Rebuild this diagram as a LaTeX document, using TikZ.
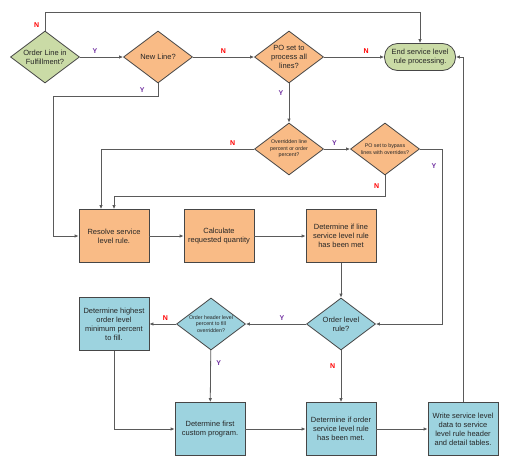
\documentclass[tikz,border=0pt]{standalone}
\usepackage{fontspec}
\setmainfont{Liberation Sans}
\usetikzlibrary{arrows.meta,shapes.geometric}

\definecolor{leafgreen}{RGB}{202,219,166}
\definecolor{peach}{RGB}{249,187,134}
\definecolor{skyblue}{RGB}{157,211,223}
\definecolor{edgegray}{RGB}{70,70,70}
\definecolor{linegray}{RGB}{90,90,90}
\definecolor{ylabel}{RGB}{112,48,160}

\begin{document}
\begin{tikzpicture}[
  x=1pt,
  y=-1pt,
  font=\fontsize{7.5}{9}\selectfont,
  figure/.style={draw=edgegray, line width=0.8pt, align=center, inner sep=0pt,
    text=black!85},
  stepbox/.style={figure, rectangle, minimum width=70pt, minimum height=53pt},
  question/.style={figure, diamond, aspect=1.33, minimum width=69pt,
    minimum height=52pt},
  smallq/.style={question, font=\fontsize{5.3}{6.4}\selectfont},
  orangebox/.style={stepbox, fill=peach},
  bluebox/.style={stepbox, fill=skyblue},
  terminal/.style={figure, rectangle, rounded corners=13pt, fill=leafgreen,
    minimum width=71pt, minimum height=27pt},
  arrow/.style={-{Latex[length=4pt,width=3.5pt]}, linegray, line width=0.8pt},
  yes/.style={font=\fontsize{7}{8}\selectfont\bfseries, text=ylabel},
  no/.style={font=\fontsize{7}{8}\selectfont\bfseries, text=red}
]
  \useasboundingbox (0,0) rectangle (508,466);

  % top row
  \node[question, fill=leafgreen] (fulfil) at (45,57) {Order Line in\\Fulfillment?};
  \node[question, fill=peach] (newline) at (158,57) {New Line?};
  \node[question, fill=peach] (poall) at (289,57) {PO set to\\process all\\lines?};
  \node[terminal] (endproc) at (420,57) {End service level\\rule processing.};

  % override checks
  \node[smallq, fill=peach] (override) at (289,149) {Overridden line\\percent or order\\percent?};
  \node[smallq, fill=peach] (bypass) at (385,149) {PO set to bypass\\lines with overrides?};

  % line level
  \node[orangebox] (resolve) at (114,236) {Resolve service\\level rule.};
  \node[orangebox] (calcqty) at (219,236) {Calculate\\requested quantity};
  \node[orangebox] (linemet) at (341,236) {Determine if line\\service level rule\\has been met};

  % order level
  \node[question, fill=skyblue] (ordlevel) at (341,324) {Order level\\rule?};
  \node[smallq, fill=skyblue] (hdrpct) at (211,324) {Order header level\\percent to fill\\overridden?};
  \node[bluebox] (highest) at (114,324) {Determine highest\\order level\\minimum percent\\to fill.};
  \node[bluebox] (custom) at (210,429) {Determine first\\custom program.};
  \node[bluebox] (ordmet) at (341,429) {Determine if order\\service level rule\\has been met.};
  \node[bluebox] (writedata) at (463,429) {Write service level\\data to service\\level rule header\\and detail tables.};

  \draw[arrow] (fulfil.north) -- node[no, pos=0.3, left=2pt] {N} ++(0,-18) -| (endproc.north);
  \draw[arrow] (fulfil) -- node[yes, pos=0.35, above] {Y} (newline);
  \draw[arrow] (newline) -- node[no, pos=0.5, above] {N} (poall);
  \draw[arrow] (poall) -- node[no, pos=0.7, above] {N} (endproc);
  \draw[arrow] (newline.south) |- node[yes, pos=0.575, above] {Y} (53,96) |- (resolve.west);
  \draw[arrow] (poall) -- node[yes, pos=0.25, left=2pt] {Y} (override);
  \draw[arrow] (override.west) -| node[no, pos=0.07, above] {N} ([xshift=-13pt]resolve.north);
  \draw[arrow] (override) -- node[yes, pos=0.4, above] {Y} (bypass);
  \draw[arrow] (bypass.south) -- node[no, pos=0.5, left=2pt] {N} ++(0,21) -| (resolve.north);
  \draw[arrow] (bypass.east) -- ++(22,0) |- node[yes, pos=0.05, left=2pt] {Y} (ordlevel.east);
  \draw[arrow] (resolve) -- (calcqty);
  \draw[arrow] (calcqty) -- (linemet);
  \draw[arrow] (linemet) -- (ordlevel);
  \draw[arrow] (ordlevel) -- node[yes, pos=0.4, above] {Y} (hdrpct);
  \draw[arrow] (hdrpct) -- node[no, pos=0.4, above] {N} (highest);
  \draw[arrow] (hdrpct) -- node[yes, pos=0.25, right=2pt] {Y} (custom);
  \draw[arrow] (ordlevel) -- node[no, pos=0.3, left=2pt] {N} (ordmet);
  \draw[arrow] (highest.south) |- (custom.west);
  \draw[arrow] (custom) -- (ordmet);
  \draw[arrow] (ordmet) -- (writedata);
  \draw[arrow] (writedata.north) |- (endproc.east);
\end{tikzpicture}
\end{document}
